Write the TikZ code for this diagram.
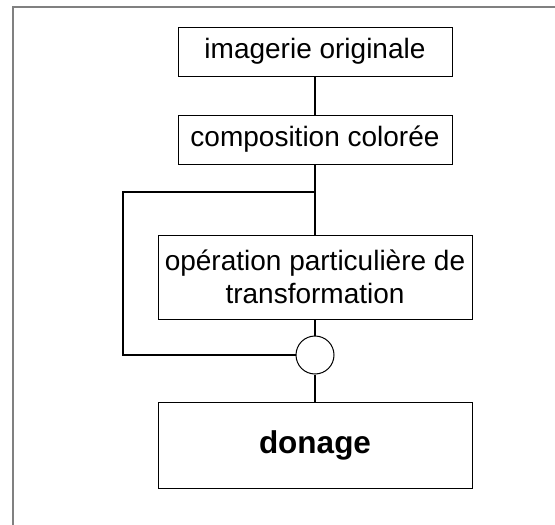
\documentclass[tikz,border=0pt]{standalone}
\usepackage{fontspec}
\setmainfont{Liberation Sans}
\usetikzlibrary{positioning}
\begin{document}
\begin{tikzpicture}[node distance=38pt,
  stagebox/.style={draw, line width=1pt, align=center, inner sep=0pt, font=\fontsize{28}{33}\selectfont},
  link/.style={line width=2pt}]
  \useasboundingbox (0,0) rectangle (555pt,-525pt);
  \draw[gray, line width=1.6pt] (13pt,-525pt) -- (13pt,-7pt) -- (555pt,-7pt);

  \node[stagebox, minimum width=274pt, minimum height=49pt] (orig) at (315pt,-51.5pt) {imagerie originale};
  \node[stagebox, minimum width=274pt, minimum height=49pt, below=of orig] (compo) {composition colorée};
  \coordinate[below=27pt of compo] (split);
  \coordinate[left=192pt of split] (loop);
  \node[stagebox, minimum width=314pt, minimum height=84pt, below=70pt of compo] (oper) {opération particulière de\\transformation};
  \node[draw, circle, line width=1pt, minimum size=38pt, inner sep=0pt, below=16pt of oper] (merge) {};
  \node[stagebox, minimum width=314pt, minimum height=86pt, below=27pt of merge, font=\bfseries\fontsize{31.5}{36}\selectfont] (result) {donage};

  \draw[link] (orig) -- (compo);
  \draw[link] (compo) -- (oper);
  \draw[link] (split) -- (loop) |- (merge.west);
  \draw[link] (oper) -- (merge);
  \draw[link] (merge) -- (result);
\end{tikzpicture}
\end{document}
